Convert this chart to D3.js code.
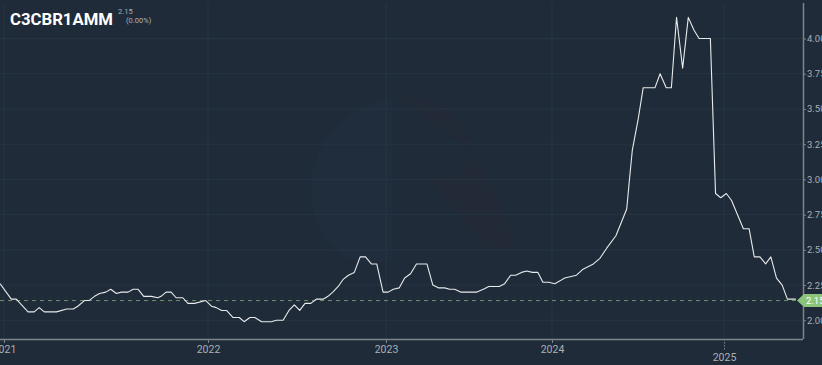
<!DOCTYPE html>
<html><head><meta charset="utf-8">
<script src="https://cdn.jsdelivr.net/npm/d3@7"></script>
<style>
html,body{margin:0;padding:0;background:#1f2b38;}
svg{display:block;}
</style></head>
<body><svg id="c" width="822" height="365"></svg>
<script>
const title = "C3CBR1AMM";
const lastValue = 2.15;
const changeText = "(0.00%)";
const yTicks = [2.00, 2.25, 2.50, 2.75, 3.00, 3.25, 3.50, 3.75, 4.00];
const xTickYears = ["2021-01-01","2022-01-01","2023-01-01","2024-01-01","2025-01-01"];
const dates = ["2020-12-25","2021-01-14","2021-01-23","2021-02-13","2021-02-24","2021-03-05","2021-03-14","2021-04-05","2021-04-23","2021-05-05","2021-05-13","2021-05-25","2021-06-02","2021-06-12","2021-06-21","2021-07-02","2021-07-11","2021-07-21","2021-07-30","2021-08-11","2021-08-20","2021-08-29","2021-09-08","2021-09-22","2021-10-03","2021-10-09","2021-10-18","2021-10-27","2021-11-05","2021-11-11","2021-11-17","2021-11-26","2021-12-08","2021-12-28",
"2022-01-08","2022-01-18","2022-01-29","2022-02-08","2022-02-21","2022-03-06","2022-03-16","2022-03-28","2022-04-07","2022-04-21","2022-05-11","2022-05-21","2022-06-04","2022-06-16","2022-06-27","2022-07-08","2022-07-19","2022-07-31","2022-08-11","2022-08-25","2022-09-04","2022-09-14","2022-09-25","2022-10-05","2022-10-16","2022-10-28","2022-11-09","2022-11-20","2022-12-02","2022-12-13","2022-12-26",
"2023-01-06","2023-01-17","2023-01-30","2023-02-11","2023-02-24","2023-03-09","2023-04-01","2023-04-14","2023-04-27","2023-05-10","2023-05-21","2023-06-01","2023-06-14","2023-07-20","2023-08-03","2023-08-15","2023-09-07","2023-09-19","2023-10-02","2023-10-13","2023-10-26","2023-11-06","2023-11-19","2023-12-01","2023-12-12","2023-12-25",
"2024-01-07","2024-01-18","2024-01-28","2024-02-22","2024-03-06","2024-03-29","2024-04-12","2024-04-26","2024-05-16","2024-06-08","2024-06-13","2024-06-20","2024-07-02","2024-07-13","2024-08-07","2024-08-18","2024-08-31","2024-09-11","2024-09-22","2024-10-05","2024-10-17","2024-10-29","2024-11-09","2024-12-03","2024-12-14","2024-12-25",
"2025-01-06","2025-01-17","2025-02-11","2025-02-23","2025-03-06","2025-03-18","2025-03-30","2025-04-10","2025-04-22","2025-05-04","2025-05-15","2025-06-02"];
const values = [2.26,2.15,2.15,2.06,2.06,2.09,2.06,2.06,2.08,2.08,2.10,2.14,2.14,2.17,2.19,2.20,2.22,2.19,2.20,2.20,2.22,2.22,2.17,2.17,2.16,2.17,2.20,2.20,2.16,2.16,2.16,2.12,2.12,2.14,
2.10,2.09,2.07,2.07,2.02,2.02,1.99,2.02,2.02,1.99,1.99,2.00,2.00,2.07,2.11,2.07,2.12,2.12,2.15,2.15,2.17,2.20,2.24,2.29,2.32,2.34,2.45,2.45,2.40,2.40,2.20,
2.20,2.22,2.23,2.30,2.33,2.40,2.40,2.25,2.23,2.23,2.22,2.22,2.20,2.20,2.22,2.24,2.24,2.26,2.32,2.32,2.34,2.35,2.34,2.34,2.27,2.27,
2.26,2.28,2.30,2.32,2.36,2.40,2.44,2.51,2.60,2.79,2.97,3.21,3.42,3.65,3.65,3.75,3.65,3.65,4.15,3.79,4.15,4.06,4.00,4.00,2.90,2.87,
2.90,2.85,2.65,2.65,2.45,2.45,2.40,2.45,2.30,2.25,2.15,2.15];

const parse = d3.timeParse("%Y-%m-%d");
const data = dates.map((d,i)=>({date:parse(d), value:values[i]}));

const svg = d3.select("#c");
const W = 822, H = 365;
const plotL = 0, plotR = 803, plotT = 3, plotB = 339;

svg.append("rect").attr("width",W).attr("height",H).attr("fill","#1f2b38");

// x scale: piecewise time scale (irregular year spacing of the source axis)
const x = d3.scaleTime()
  .domain(["2020-12-25","2021-01-01","2022-01-01","2023-01-01","2024-01-01","2025-01-01","2025-06-17"].map(parse))
  .range([0,4,208,386,552,724,803]);
const y = d3.scaleLinear().domain([2.00,4.00]).range([320.3,38.5]);

// watermark (very faint)
const wm = svg.append("g");
wm.append("path").attr("d","M392,98 C330,110 305,160 312,205 C318,240 340,258 360,262 L392,262 Z").attr("fill","#1f2d3d");
wm.append("path").attr("d","M400,98 C430,95 465,110 470,150 C470,170 455,180 440,178 L420,168 C445,200 470,230 490,252 L515,252 C510,215 490,180 470,150").attr("fill","#212a36");

// grid
const grid = svg.append("g");
grid.selectAll("line.h").data(yTicks).join("line")
  .attr("x1",plotL).attr("x2",plotR).attr("y1",d=>y(d)).attr("y2",d=>y(d))
  .attr("stroke","#263544").attr("stroke-width",1);
grid.selectAll("line.v").data(xTickYears.map(parse)).join("line")
  .attr("x1",d=>x(d)).attr("x2",d=>x(d)).attr("y1",plotT).attr("y2",plotB)
  .attr("stroke","#263544").attr("stroke-width",1);

// last value dashed line
svg.append("line").attr("x1",plotL).attr("x2",plotR)
  .attr("y1",y(lastValue)+1.4).attr("y2",y(lastValue)+1.4)
  .attr("stroke","#6f9468").attr("stroke-width",1).attr("stroke-dasharray","4,4");

// line
const line = d3.line().x(d=>x(d.date)).y(d=>y(d.value));
svg.append("path").datum(data).attr("d",line)
  .attr("fill","none").attr("stroke","#e8eaec").attr("stroke-width",1.1).attr("stroke-linejoin","round");

// axes
const axisColor = "#7d848c";
const yAxis = svg.append("g").attr("transform",`translate(${plotR},0)`)
  .call(d3.axisRight(y).tickValues(yTicks).tickFormat(d3.format(".2f")).tickSize(3).tickPadding(1));
yAxis.select(".domain").attr("d",`M0.5,${plotT}V${plotB}`).attr("stroke",axisColor).attr("stroke-width",1.5);
yAxis.selectAll(".tick line").attr("stroke",axisColor);
yAxis.selectAll(".tick text").attr("fill","#aab0b6").style("font-family","Roboto, sans-serif").style("font-size","9.5px");

const xAxis = svg.append("g").attr("transform",`translate(0,${plotB})`)
  .call(d3.axisBottom(x).tickValues(xTickYears.map(parse)).tickFormat(d3.timeFormat("%Y")).tickSize(4).tickPadding(3));
xAxis.select(".domain").attr("d",`M${plotL},0.5H${plotR}`).attr("stroke",axisColor).attr("stroke-width",1.5);
xAxis.selectAll(".tick line").attr("stroke",axisColor);
xAxis.selectAll(".tick text").attr("fill","#aab0b6").style("font-family","Roboto, sans-serif").style("font-size","10.5px");
xAxis.selectAll(".tick").filter(d=>d.getFullYear()===2025).each(function(){
  const g = d3.select(this);
  g.select("line").attr("y2",12).attr("stroke-dasharray","1.5,1.5");
  g.select("text").attr("y",15);
});

// last value label
const ly = y(lastValue)+1.4;
const lab = svg.append("g").attr("transform",`translate(${plotR-6},${ly})`);
lab.append("path").attr("d","M0,0 L7,-6.5 H40 V6.5 H7 Z").attr("fill","#8cc47a");
lab.append("text").attr("x",9).attr("y",3.4).text(d3.format(".2f")(lastValue))
  .attr("fill","#ffffff").style("font-family","Roboto, sans-serif").style("font-size","9.5px");

// title
svg.append("text").attr("x",10).attr("y",25).text(title)
  .attr("fill","#ffffff").style("font-family","Roboto, sans-serif").style("font-weight","bold").style("font-size","17px").attr("textLength",103).attr("lengthAdjust","spacingAndGlyphs");
svg.append("text").attr("x",118).attr("y",14).text(d3.format(".2f")(lastValue))
  .attr("fill","#aab0b6").style("font-family","Roboto, sans-serif").style("font-size","7.5px");
svg.append("text").attr("x",126).attr("y",23).text(changeText)
  .attr("fill","#aab0b6").style("font-family","Roboto, sans-serif").style("font-size","7.5px");
</script></body></html>
